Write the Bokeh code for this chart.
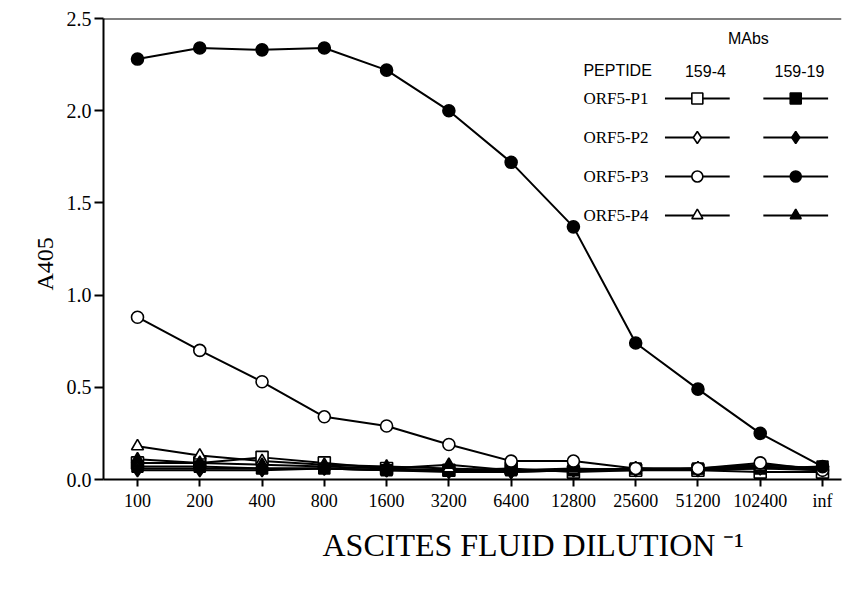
from bokeh.plotting import figure
from bokeh.models import FixedTicker, Label, Span, Range1d, PrintfTickFormatter, Title
from bokeh.embed import file_html
from bokeh.resources import INLINE

# ---------------- data ----------------
dilutions = ["100", "200", "400", "800", "1600", "3200", "6400",
             "12800", "25600", "51200", "102400", "inf"]
y_ticks = [0.0, 0.5, 1.0, 1.5, 2.0, 2.5]

p1_159_4 = [0.09, 0.09, 0.12, 0.09, 0.06, 0.05, 0.06, 0.04, 0.05, 0.05, 0.04, 0.04]
p1_159_19 = [0.07, 0.07, 0.06, 0.06, 0.05, 0.05, 0.05, 0.05, 0.06, 0.06, 0.06, 0.07]
p2_159_4 = [0.06, 0.06, 0.06, 0.06, 0.05, 0.05, 0.04, 0.05, 0.06, 0.05, 0.06, 0.05]
p2_159_19 = [0.05, 0.05, 0.05, 0.06, 0.05, 0.04, 0.04, 0.05, 0.05, 0.06, 0.07, 0.06]
p3_159_4 = [0.88, 0.70, 0.53, 0.34, 0.29, 0.19, 0.10, 0.10, 0.06, 0.06, 0.09, 0.05]
p3_159_19 = [2.28, 2.34, 2.33, 2.34, 2.22, 2.00, 1.72, 1.37, 0.74, 0.49, 0.25, 0.07]
p4_159_4 = [0.18, 0.13, 0.10, 0.08, 0.07, 0.06, 0.05, 0.05, 0.06, 0.05, 0.07, 0.05]
p4_159_19 = [0.11, 0.09, 0.08, 0.07, 0.06, 0.08, 0.05, 0.06, 0.05, 0.06, 0.08, 0.06]

peptides = ["ORF5-P1", "ORF5-P2", "ORF5-P3", "ORF5-P4"]
mabs = ["159-4", "159-19"]

# ---------------- figure ----------------
xs = list(range(len(dilutions)))
SERIF = "Liberation Serif"
SANS = "Liberation Sans"
INK = "black"

p = figure(width=846, height=590, output_backend="svg", toolbar_location=None,
           x_range=Range1d(-0.546, 11.305), y_range=Range1d(0, 2.5),
           min_border_left=103, min_border_right=5, min_border_top=18,
           min_border_bottom=111)
p.outline_line_color = None
p.grid.visible = False
p.background_fill_color = "white"
p.border_fill_color = "white"

# x axis
p.xaxis.ticker = FixedTicker(ticks=xs)
p.xaxis.major_label_overrides = {i: d for i, d in enumerate(dilutions)}
p.xaxis.major_tick_out = 7
p.xaxis.major_tick_in = 0
p.xaxis.minor_tick_line_color = None
p.xaxis.axis_line_width = 2
p.xaxis.major_tick_line_width = 2
p.xaxis.major_label_text_font = SERIF
p.xaxis.major_label_text_font_size = "18px"
p.xaxis.major_label_text_color = INK
p.xaxis.major_label_standoff = 4

# x axis title (with superscript -1)
p.add_layout(Title(text="ASCITES FLUID DILUTION \u207b\u00b9", align="left", offset=219,
                   standoff=22, text_font=SERIF, text_font_size="32px",
                   text_font_style="normal", text_color=INK),
             "below")

# y axis
p.yaxis.ticker = FixedTicker(ticks=y_ticks)
p.yaxis.formatter = PrintfTickFormatter(format="%.1f")
p.yaxis.major_tick_out = 9
p.yaxis.major_tick_in = 0
p.yaxis.minor_tick_line_color = None
p.yaxis.axis_line_width = 2
p.yaxis.major_tick_line_width = 2
p.yaxis.major_label_text_font = SERIF
p.yaxis.major_label_text_font_size = "20px"
p.yaxis.major_label_text_color = INK
p.yaxis.major_label_standoff = 3

# y axis title as a left-side title (so it can be nudged down)
p.add_layout(Title(text="A405", align="left", offset=189, standoff=12,
                   text_font=SERIF, text_font_size="24px", text_font_style="normal",
                   text_color=INK),
             "left")

# top frame line
p.add_layout(Span(location=2.5, dimension="width", line_color="black", line_width=2))

# ---------------- series ----------------
series = [
    (p1_159_4, "square", "white", 12),
    (p1_159_19, "square", "black", 11),
    (p2_159_4, "diamond", "white", 13),
    (p2_159_19, "diamond", "black", 13),
    (p4_159_4, "triangle", "white", 12),
    (p4_159_19, "triangle", "black", 12),
    (p3_159_4, "circle", "white", 12),
    (p3_159_19, "circle", "black", 12),
]
for vals, marker, fill, size in series:
    p.line(xs, vals, line_color="black", line_width=2)
for vals, marker, fill, size in series:
    p.scatter(xs, vals, marker=marker, size=size, fill_color=fill,
              line_color="black", line_width=1.6)

# ---------------- legend (layout constants) ----------------
row_y = [2.066, 1.855, 1.643, 1.432]
col_x = [8.99, 10.57]
head_x = [9.12, 10.63]
half = 0.52
legend_markers = [("square", 11), ("diamond", 12), ("circle", 11), ("triangle", 11)]
for ri, (pep, (marker, size)) in enumerate(zip(peptides, legend_markers)):
    yv = row_y[ri]
    p.add_layout(Label(x=7.16, y=yv, text=pep, text_font=SERIF, text_font_size="17px",
                       text_color=INK, text_baseline="middle", text_align="left"))
    for ci, fill in enumerate(["white", "black"]):
        cx = col_x[ci]
        p.line([cx - half, cx + half], [yv, yv], line_color="black", line_width=2)
        p.scatter([cx], [yv], marker=marker, size=size, fill_color=fill,
                  line_color="black", line_width=1.6)

p.add_layout(Label(x=9.81, y=2.39, text="MAbs", text_font=SANS, text_font_size="16px",
                   text_color=INK, text_baseline="middle", text_align="center"))
p.add_layout(Label(x=7.16, y=2.218, text="PEPTIDE", text_font=SANS, text_font_size="16px",
                   text_color=INK, text_baseline="middle", text_align="left"))
for ci, m in enumerate(mabs):
    p.add_layout(Label(x=head_x[ci], y=2.218, text=m, text_font=SANS, text_font_size="16px",
                       text_color=INK, text_baseline="middle", text_align="center"))

open("out.html", "w").write(file_html(p, INLINE))
